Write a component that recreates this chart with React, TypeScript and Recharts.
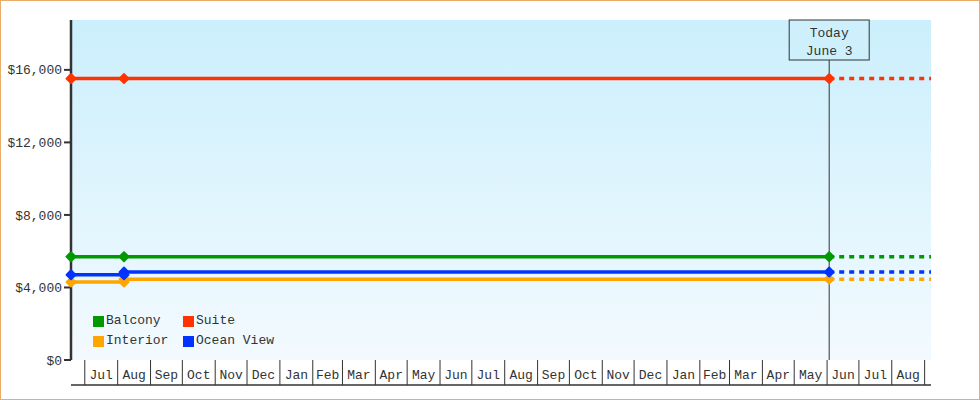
import React from 'react';
import { LineChart, Line, XAxis, YAxis, CartesianGrid, ReferenceLine } from 'recharts';

// ---------- data ----------
const startDate = '2013-06-18';
const endDate = '2015-09-07';
const todayDate = '2015-06-03';
const changeDate = '2013-08-07';
const todayLines = ['Today', 'June 3'];

const monthStarts = [
  '2013-07-01', '2013-08-01', '2013-09-01', '2013-10-01', '2013-11-01', '2013-12-01',
  '2014-01-01', '2014-02-01', '2014-03-01', '2014-04-01', '2014-05-01', '2014-06-01',
  '2014-07-01', '2014-08-01', '2014-09-01', '2014-10-01', '2014-11-01', '2014-12-01',
  '2015-01-01', '2015-02-01', '2015-03-01', '2015-04-01', '2015-05-01', '2015-06-01',
  '2015-07-01', '2015-08-01', '2015-09-01',
];
const monthLabels = [
  'Jul', 'Aug', 'Sep', 'Oct', 'Nov', 'Dec', 'Jan', 'Feb', 'Mar', 'Apr', 'May', 'Jun',
  'Jul', 'Aug', 'Sep', 'Oct', 'Nov', 'Dec', 'Jan', 'Feb', 'Mar', 'Apr', 'May', 'Jun',
  'Jul', 'Aug',
];

const yTicks = [0, 4000, 8000, 12000, 16000];
const yMax = 18750;

const balconyDates = [startDate, changeDate, todayDate];
const balconyPrices = [5700, 5700, 5700];
const suiteDates = [startDate, changeDate, todayDate];
const suitePrices = [15520, 15520, 15520];
const interiorDates = [startDate, changeDate, changeDate, todayDate];
const interiorPrices = [4300, 4300, 4460, 4460];
const oceanDates = [startDate, changeDate, changeDate, todayDate];
const oceanPrices = [4700, 4700, 4850, 4850];

const seriesNames = ['Balcony', 'Suite', 'Interior', 'Ocean View'];
const seriesColors = ['#009900', '#FF3300', '#FFA500', '#0033FF'];

// ---------- helpers ----------
const toDay = (s: string) => Date.parse(s + 'T00:00:00Z') / 86400000;
const build = (dates: string[], prices: number[]) => dates.map((d, i) => ({ x: toDay(d), y: prices[i] }));
const future = (prices: number[]) => [
  { x: toDay(todayDate), y: prices[prices.length - 1] },
  { x: toDay(endDate), y: prices[prices.length - 1] },
];

const domainX: [number, number] = [toDay(startDate), toDay(endDate)];
const sepTicks = monthStarts.map(toDay);
const labelTicks = monthLabels.map((_, i) => (sepTicks[i] + sepTicks[i + 1]) / 2);

const FONT = '"Liberation Mono", "DejaVu Sans Mono", monospace';
const TEXT = '#333333';

const series = [
  { name: 'Interior', color: seriesColors[2], data: build(interiorDates, interiorPrices), fut: future(interiorPrices) },
  { name: 'Ocean View', color: seriesColors[3], data: build(oceanDates, oceanPrices), fut: future(oceanPrices) },
  { name: 'Balcony', color: seriesColors[0], data: build(balconyDates, balconyPrices), fut: future(balconyPrices) },
  { name: 'Suite', color: seriesColors[1], data: build(suiteDates, suitePrices), fut: future(suitePrices) },
];

const makeDot = (color: string) => (props: any) => {
  const { cx, cy, index } = props;
  if (cx == null || cy == null) return <g key={`d-${index}`} />;
  const r = 4.6;
  return (
    <path
      key={`d-${index}`}
      d={`M${cx},${cy - r}L${cx + r},${cy}L${cx},${cy + r}L${cx - r},${cy}Z`}
      fill={color}
      stroke={color}
      strokeWidth={1.8}
      strokeLinejoin="round"
    />
  );
};

const EmptyTick = () => <g />;

const monthLabelFor = (v: number) => {
  let best = 0;
  let bestD = Infinity;
  labelTicks.forEach((t, i) => {
    const d = Math.abs(t - v);
    if (d < bestD) {
      bestD = d;
      best = i;
    }
  });
  return monthLabels[best];
};

const renderMonthTick = (props: any) => {
  const { x, y, payload } = props;
  const v = payload && payload.value != null ? Number(payload.value) : NaN;
  const label = monthLabelFor(v);
  return (
    <text x={x} y={Number(y) - 7} textAnchor="middle" fill={TEXT} fontSize={13} fontFamily={FONT}>
      {label}
    </text>
  );
};

const TodayLabel = (props: any) => {
  const vb = props.viewBox || {};
  const cx = vb.x;
  const top = vb.y;
  return (
    <g>
      <rect x={cx - 40} y={top} width={80} height={40} fill="#CDF0FC" stroke={TEXT} strokeWidth={1} />
      <text x={cx} y={top + 17} textAnchor="middle" fill={TEXT} fontSize={13} fontFamily={FONT}>
        {todayLines[0]}
      </text>
      <text x={cx} y={top + 35} textAnchor="middle" fill={TEXT} fontSize={13} fontFamily={FONT}>
        {todayLines[1]}
      </text>
    </g>
  );
};

const fmtMoney = (v: number) => '$' + v.toLocaleString('en-US');

export default function App() {
  return (
    <div style={{ position: 'relative', width: 980, height: 400, background: '#fff' }}>
      <style>{'body{margin:0;}'}</style>
      <LineChart width={980} height={400} margin={{ top: 20, right: 49, bottom: 0, left: 0 }}>
        <defs>
          <linearGradient id="plotBg" x1="0" y1="0" x2="0" y2="1">
            <stop offset="0%" stopColor="#CBEFFC" />
            <stop offset="100%" stopColor="#F3FAFF" />
          </linearGradient>
        </defs>
        <CartesianGrid horizontal={false} vertical={false} fill="url(#plotBg)" stroke="none" />
        <XAxis
          xAxisId="a_sep"
          dataKey="x"
          type="number"
          domain={domainX}
          ticks={sepTicks}
          interval={0}
          height={25}
          tickSize={25}
          tickLine={{ stroke: TEXT, strokeWidth: 1 }}
          axisLine={false}
          tick={<EmptyTick />}
        />
        <XAxis
          xAxisId="b_lab"
          dataKey="x"
          type="number"
          domain={domainX}
          ticks={labelTicks}
          interval={0}
          height={15}
          tickSize={1}
          tickMargin={0}
          tickLine={false}
          axisLine={{ stroke: TEXT, strokeWidth: 1.5 }}
          tick={renderMonthTick}
        />
        <YAxis
          type="number"
          domain={[0, yMax]}
          ticks={yTicks}
          interval={0}
          width={71}
          tickSize={7}
          tickMargin={2}
          axisLine={{ stroke: TEXT, strokeWidth: 2.5 }}
          tickLine={{ stroke: TEXT, strokeWidth: 2 }}
          tick={{ fill: TEXT, fontSize: 13, fontFamily: FONT }}
          tickFormatter={fmtMoney}
        />
        <ReferenceLine
          xAxisId="a_sep"
          x={toDay(todayDate)}
          stroke={TEXT}
          strokeWidth={1}
          label={<TodayLabel />}
        />
        {series.map((s) => (
          <Line
            key={s.name + '-f'}
            xAxisId="b_lab"
            data={s.fut}
            dataKey="y"
            name={s.name + ' forecast'}
            stroke={s.color}
            strokeWidth={3.5}
            strokeDasharray="5 5"
            dot={false}
            activeDot={false}
            isAnimationActive={false}
            legendType="none"
          />
        ))}
        {series.map((s) => (
          <Line
            key={s.name}
            xAxisId="a_sep"
            data={s.data}
            dataKey="y"
            name={s.name}
            stroke={s.color}
            strokeWidth={3.5}
            dot={makeDot(s.color)}
            activeDot={false}
            isAnimationActive={false}
          />
        ))}
      </LineChart>
      <div
        style={{
          position: 'absolute',
          left: 93,
          top: 313,
          display: 'grid',
          gridTemplateColumns: '90px 120px',
          rowGap: 4,
          fontFamily: FONT,
          fontSize: 13,
          color: TEXT,
          lineHeight: '16px',
        }}
      >
        {seriesNames.map((n, i) => (
          <div key={n} style={{ display: 'flex', alignItems: 'center', height: 16 }}>
            <span style={{ display: 'inline-block', width: 11, height: 11, background: seriesColors[i], marginRight: 2 }} />
            <span>{n}</span>
          </div>
        ))}
      </div>
      <div
        style={{
          position: 'absolute',
          inset: 0,
          border: '1px solid #E9AD6B',
          boxSizing: 'border-box',
          pointerEvents: 'none',
        }}
      />
    </div>
  );
}
